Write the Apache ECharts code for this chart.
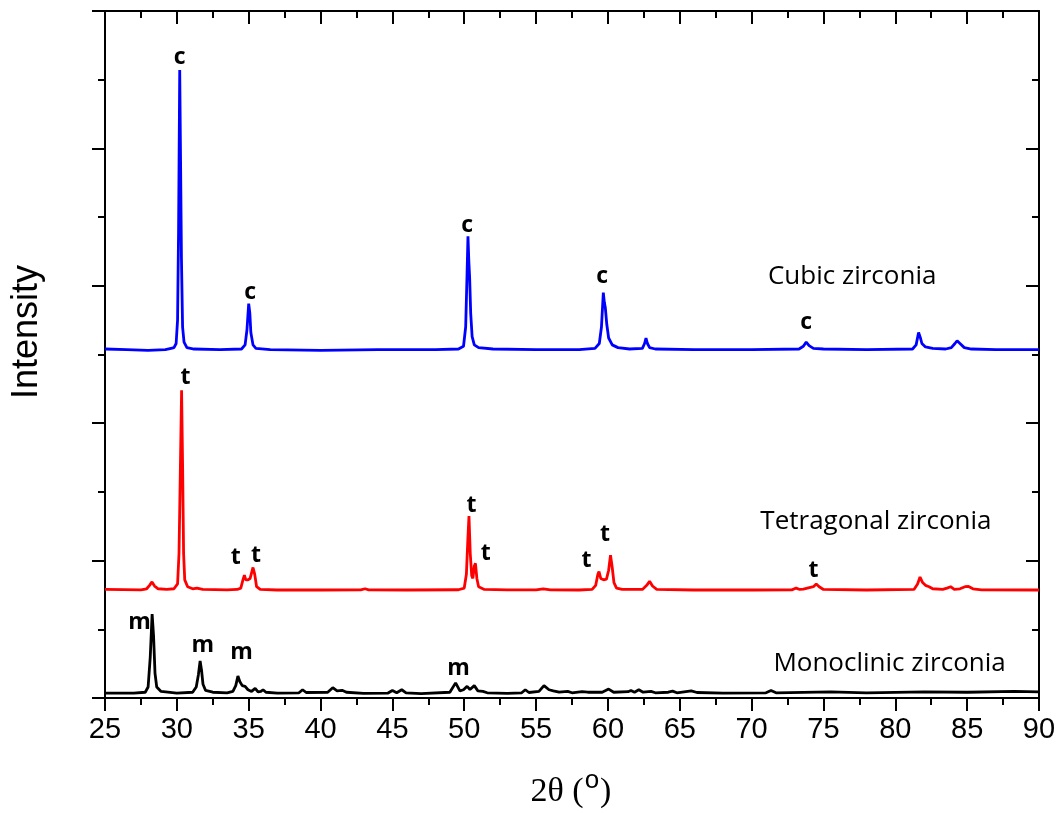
<!DOCTYPE html>
<html>
<head>
<meta charset="utf-8">
<script src="https://cdn.jsdelivr.net/npm/echarts@6/dist/echarts.min.js"></script>
<style>
  html, body { margin: 0; padding: 0; background: #fff; }
  #chart { width: 1061px; height: 815px; }
</style>
</head>
<body>
<div id="chart"></div>
<script>
// XRD patterns, values as plotted (each pattern already stacked on its offset)
var cubic = [
  [25, 2.54], [26.5, 2.535], [28, 2.53], [29.2, 2.535], [29.6, 2.545], [29.8, 2.55], [29.95, 2.58],
  [30.05, 2.75], [30.12, 3.4], [30.2, 4.57], [30.26, 3.9], [30.32, 3.2], [30.4, 2.7], [30.5, 2.59],
  [30.7, 2.55], [31.2, 2.54], [33, 2.535], [34.5, 2.54], [34.75, 2.57], [34.88, 2.68], [35.0, 2.87],
  [35.08, 2.8], [35.15, 2.66], [35.3, 2.57], [35.5, 2.545], [36.5, 2.535], [40, 2.53], [44, 2.535],
  [48, 2.535], [49.6, 2.54], [49.95, 2.56], [50.1, 2.7], [50.2, 3.1], [50.26, 3.36], [50.32, 3.18],
  [50.38, 3.05], [50.45, 2.8], [50.55, 2.63], [50.7, 2.57], [51, 2.55], [52, 2.54], [55, 2.535],
  [58, 2.535], [59.1, 2.545], [59.4, 2.58], [59.55, 2.7], [59.68, 2.95], [59.75, 2.88], [59.82, 2.84],
  [59.92, 2.72], [60.05, 2.62], [60.3, 2.57], [60.7, 2.55], [61.5, 2.54], [62.4, 2.545], [62.55, 2.58],
  [62.65, 2.62], [62.75, 2.58], [62.9, 2.55], [63.3, 2.54], [66, 2.535], [70, 2.535], [73.3, 2.54],
  [73.6, 2.56], [73.8, 2.59], [74.0, 2.565], [74.3, 2.545], [75, 2.54], [78, 2.535], [81.2, 2.54],
  [81.45, 2.57], [81.62, 2.66], [81.75, 2.62], [81.85, 2.58], [82.1, 2.555], [82.6, 2.545], [83.5, 2.54],
  [83.9, 2.55], [84.15, 2.58], [84.3, 2.60], [84.5, 2.58], [84.8, 2.55], [85.3, 2.54], [87, 2.535], [90, 2.535]
];
var tetragonal = [
  [25, 0.79], [27.5, 0.787], [27.9, 0.795], [28.1, 0.82], [28.27, 0.845], [28.45, 0.815], [28.7, 0.795],
  [29.3, 0.79], [29.8, 0.795], [30.05, 0.83], [30.15, 1.05], [30.25, 1.7], [30.33, 2.24], [30.4, 1.7],
  [30.47, 1.05], [30.55, 0.86], [30.75, 0.81], [31.1, 0.795], [31.4, 0.80], [31.8, 0.79], [33.5, 0.787],
  [34.2, 0.79], [34.45, 0.80], [34.6, 0.86], [34.7, 0.895], [34.8, 0.86], [34.95, 0.86], [35.1, 0.87],
  [35.3, 0.95], [35.42, 0.90], [35.55, 0.81], [35.8, 0.79], [37, 0.786], [40, 0.786], [42.8, 0.787],
  [43.1, 0.795], [43.35, 0.787], [46, 0.786], [49.6, 0.788], [50.0, 0.80], [50.15, 0.9], [50.25, 1.15],
  [50.33, 1.325], [50.42, 1.05], [50.52, 0.89], [50.6, 0.87], [50.7, 0.96], [50.78, 0.98], [50.88, 0.87],
  [51.0, 0.81], [51.4, 0.79], [53, 0.787], [55.0, 0.787], [55.5, 0.795], [56, 0.787], [58, 0.786],
  [58.9, 0.79], [59.15, 0.82], [59.3, 0.90], [59.38, 0.92], [59.5, 0.87], [59.7, 0.86], [59.9, 0.865],
  [60.05, 0.93], [60.18, 1.04], [60.3, 0.95], [60.42, 0.84], [60.6, 0.80], [61, 0.79], [62.4, 0.79],
  [62.7, 0.82], [62.9, 0.85], [63.1, 0.815], [63.4, 0.79], [66, 0.786], [70, 0.786], [72.8, 0.787],
  [73.1, 0.80], [73.35, 0.79], [73.6, 0.792], [74.3, 0.81], [74.5, 0.83], [74.7, 0.81], [75, 0.79],
  [78, 0.786], [81.3, 0.79], [81.55, 0.83], [81.72, 0.88], [81.9, 0.84], [82.1, 0.82], [82.35, 0.81],
  [82.6, 0.795], [83.3, 0.79], [83.6, 0.80], [83.85, 0.81], [84.1, 0.79], [84.5, 0.795], [84.85, 0.81],
  [85.1, 0.812], [85.4, 0.795], [86, 0.787], [90, 0.786]
];
var monoclinic = [
  [25, 0.036], [27, 0.036], [27.8, 0.042], [28.0, 0.08], [28.15, 0.3], [28.28, 0.61], [28.38, 0.45],
  [28.48, 0.18], [28.6, 0.08], [28.9, 0.048], [30, 0.036], [31.1, 0.042], [31.35, 0.08], [31.5, 0.17],
  [31.62, 0.27], [31.72, 0.2], [31.82, 0.1], [32.0, 0.055], [32.5, 0.042], [33.5, 0.038], [33.9, 0.048],
  [34.1, 0.09], [34.25, 0.16], [34.38, 0.12], [34.55, 0.09], [34.75, 0.085], [34.95, 0.06], [35.2, 0.048],
  [35.45, 0.07], [35.65, 0.045], [35.85, 0.048], [36.0, 0.06], [36.2, 0.042], [37, 0.036], [38.5, 0.038],
  [38.75, 0.06], [39.0, 0.04], [40.5, 0.042], [40.85, 0.075], [41.15, 0.052], [41.5, 0.056], [41.8, 0.042],
  [43, 0.034], [44.7, 0.036], [45.0, 0.055], [45.3, 0.038], [45.65, 0.06], [45.95, 0.038], [47, 0.032],
  [49.0, 0.042], [49.4, 0.11], [49.7, 0.052], [49.95, 0.06], [50.2, 0.085], [50.4, 0.062], [50.7, 0.09],
  [50.95, 0.052], [51.3, 0.048], [51.6, 0.038], [53, 0.034], [54.0, 0.038], [54.25, 0.06], [54.5, 0.04],
  [55.2, 0.048], [55.55, 0.09], [55.9, 0.06], [56.2, 0.052], [56.6, 0.042], [57.2, 0.048], [57.5, 0.038],
  [58.2, 0.046], [58.6, 0.042], [59.6, 0.042], [60.05, 0.065], [60.4, 0.042], [61.4, 0.046], [61.6, 0.055],
  [61.85, 0.042], [62.15, 0.06], [62.45, 0.042], [63.0, 0.048], [63.3, 0.038], [64.2, 0.042], [64.5, 0.05],
  [64.8, 0.038], [65.8, 0.052], [66.2, 0.04], [68, 0.036], [71.0, 0.038], [71.35, 0.055], [71.7, 0.038],
  [75.5, 0.044], [78, 0.038], [82, 0.044], [85, 0.042], [88.3, 0.048], [90, 0.045]
];

// phase letters over the peaks: [2theta, height, letter]
var peakLabels = [
  [30.2, 4.665, 'c'], [35.1, 2.95, 'c'], [50.2, 3.44, 'c'], [59.6, 3.07, 'c'], [73.8, 2.73, 'c'],
  [30.6, 2.33, 't'], [34.1, 1.02, 't'], [35.5, 1.04, 't'], [50.5, 1.40, 't'], [51.5, 1.055, 't'],
  [58.5, 1.00, 't'], [59.8, 1.19, 't'], [74.3, 0.93, 't'],
  [27.4, 0.553, 'm'], [31.8, 0.386, 'm'], [34.5, 0.328, 'm'], [49.6, 0.218, 'm']
];
// pattern names
var nameLabels = [
  [77.0, 3.064, 'Cubic zirconia'],
  [78.65, 1.281, 'Tetragonal zirconia'],
  [79.6, 0.247, 'Monoclinic zirconia']
];
var colors = ['#0000ff', '#ff0000', '#000000'];

var chart = echarts.init(document.getElementById('chart'));

var tickStyle = { color: '#000', width: 2 };

function xAx(pos, inside) {
  return {
    type: 'value', min: 25, max: 90, interval: 5, position: pos,
    axisLine: { show: true, onZero: false, lineStyle: tickStyle },
    axisTick: { show: true, inside: inside, length: 13, lineStyle: tickStyle },
    minorTick: { show: true, splitNumber: 2, length: 7, lineStyle: tickStyle },
    splitLine: { show: false }, minorSplitLine: { show: false },
    axisLabel: {
      show: pos == 'bottom', margin: 17, color: '#000',
      fontFamily: 'Liberation Sans', fontSize: 29
    }
  };
}
function yAx(pos, inside) {
  return {
    type: 'value', min: 0, max: 5, interval: 1, position: pos,
    axisLine: { show: true, onZero: false, lineStyle: tickStyle },
    axisTick: { show: true, inside: inside, length: 13, lineStyle: tickStyle },
    minorTick: { show: true, splitNumber: 2, length: 7, lineStyle: tickStyle },
    splitLine: { show: false }, minorSplitLine: { show: false },
    axisLabel: { show: false }
  };
}

var option = {
  animation: false,
  backgroundColor: '#fff',
  grid: { left: 105, right: 22, top: 11, bottom: 117, containLabel: false },
  xAxis: [xAx('bottom', false), xAx('top', true)],
  yAxis: [yAx('left', false), yAx('right', true)],
  graphic: [
    {
      type: 'text', x: 27, y: 332, rotation: Math.PI / 2,
      style: {
        text: 'Intensity', font: '36px "Liberation Sans"', fill: '#000',
        textAlign: 'center', textVerticalAlign: 'middle'
      }
    },
    {
      type: 'text', x: 571, y: 792,
      style: {
        text: '{n|2θ (}{s|o}{n|)}', fill: '#000', textAlign: 'center', textVerticalAlign: 'middle',
        rich: {
          n: { fontFamily: 'Liberation Serif', fontSize: 34, fill: '#000' },
          s: { fontFamily: 'Liberation Sans', fontSize: 26, fill: '#000', padding: [0, 1, 22, 1] }
        }
      }
    }
  ],
  series: [
    { type: 'line', name: 'Cubic', data: cubic },
    { type: 'line', name: 'Tetragonal', data: tetragonal },
    { type: 'line', name: 'Monoclinic', data: monoclinic }
  ].map(function (s, i) {
    s.showSymbol = false;
    s.symbol = 'none';
    s.silent = true;
    s.lineStyle = { color: colors[i], width: 2.8 };
    s.itemStyle = { color: colors[i] };
    s.z = 2;
    return s;
  }).concat([
    {
      type: 'scatter', data: peakLabels, symbolSize: 0, silent: true, z: 5,
      itemStyle: { opacity: 1 },
      label: {
        show: true, position: 'inside', formatter: function (p) { return p.value[2]; },
        color: '#000', opacity: 1, textBorderWidth: 0,
        fontFamily: 'Open Sans', fontWeight: 'bold', fontSize: 23
      }
    },
    {
      type: 'scatter', data: nameLabels, symbolSize: 0, silent: true, z: 5,
      itemStyle: { opacity: 1 },
      label: {
        show: true, position: 'inside', formatter: function (p) { return p.value[2]; },
        color: '#000', opacity: 1, textBorderWidth: 0,
        fontFamily: 'Open Sans', fontSize: 26
      }
    }
  ])
};

chart.setOption(option);
</script>
</body>
</html>
